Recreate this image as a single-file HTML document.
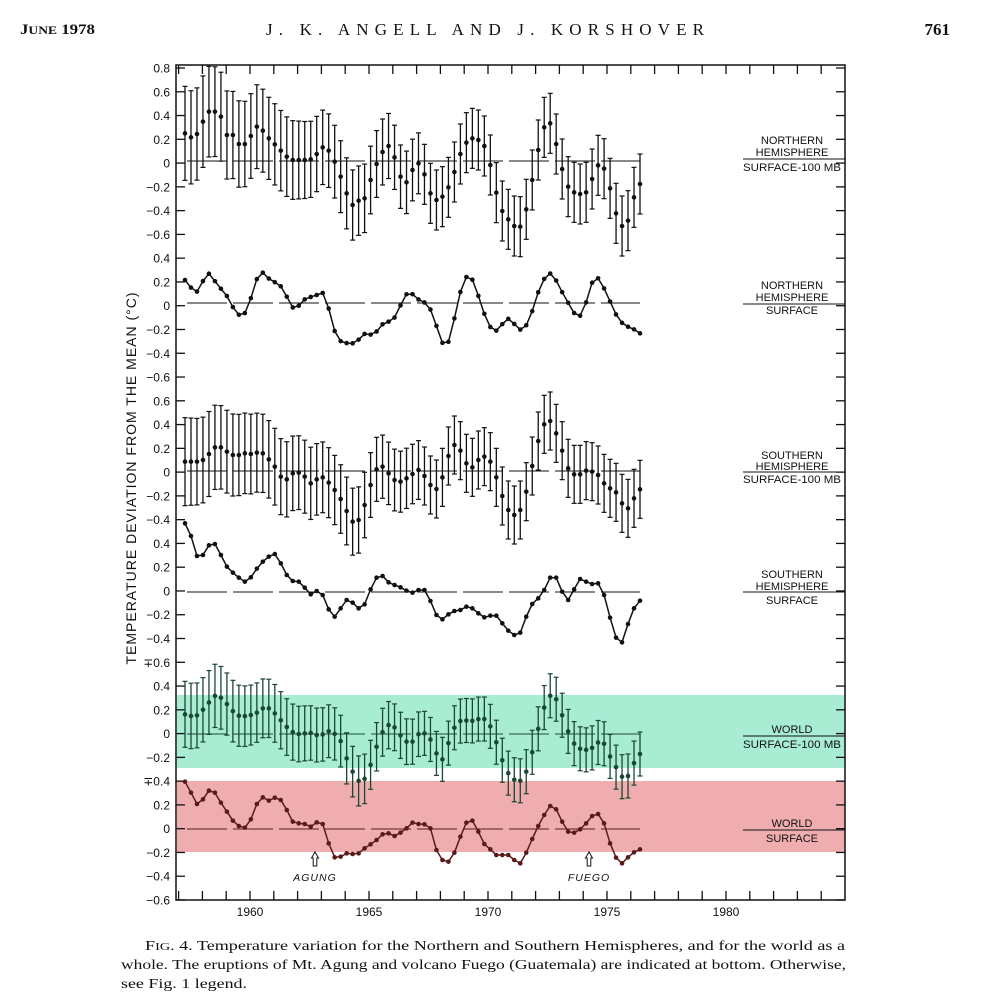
<!DOCTYPE html>
<html><head><meta charset="utf-8"><style>
html,body{margin:0;padding:0;background:#fff;}
body{width:997px;height:1004px;overflow:hidden;position:relative;font-family:"Liberation Serif",serif;}
svg{position:absolute;left:0;top:0;}
</style></head><body>
<svg id="s" width="997" height="1004" viewBox="0 0 997 1004" xmlns="http://www.w3.org/2000/svg">
<rect x="177" y="695" width="668" height="73" fill="#a8ecd4"/>
<rect x="177" y="781" width="668" height="71" fill="#efadb0"/>
<g font-family="Liberation Serif, serif" fill="#111">
<text x="20" y="34" font-size="15" font-weight="bold" textLength="75" lengthAdjust="spacingAndGlyphs">J<tspan font-size="12">UNE</tspan> 1978</text>
<text x="266" y="35" font-size="17" textLength="438" lengthAdjust="spacing">J. K. ANGELL AND J. KORSHOVER</text>
<text x="950" y="35" font-size="17" font-weight="bold" text-anchor="end">761</text>
<text x="145" y="950" font-size="14" textLength="700" lengthAdjust="spacingAndGlyphs">F<tspan font-size="11">IG</tspan>. 4. Temperature variation for the Northern and Southern Hemispheres, and for the world as a</text>
<text x="121" y="969" font-size="14" textLength="725" lengthAdjust="spacingAndGlyphs">whole. The eruptions of Mt. Agung and volcano Fuego (Guatemala) are indicated at bottom. Otherwise,</text>
<text x="121" y="988" font-size="14" textLength="126" lengthAdjust="spacingAndGlyphs">see Fig. 1 legend.</text>
</g>
<g id="g" font-family="Liberation Sans, sans-serif" fill="#111"></g>
</svg>
<script>
var NS="http://www.w3.org/2000/svg",g=document.getElementById('g');
function el(t,a,txt){var e=document.createElementNS(NS,t);for(var k in a)e.setAttribute(k,a[k]);if(txt!=null)e.textContent=txt;g.appendChild(e);return e;}
var L=176,R=845,T=65,B=900;
el('path',{d:'M'+L+' '+T+'V'+B+'H'+R+'V'+T+'Z',fill:'none',stroke:'#111','stroke-width':1.5});
var labs=['0.8','0.6','0.4','0.2','0','-0.2','-0.4','-0.6','0.4','0.2','0','-0.2','-0.4','-0.6','0.6','0.4','0.2','0','-0.2','-0.4','0.4','0.2','0','-0.2','-0.4','∓0.6','0.4','0.2','0','-0.2','∓0.4','0.2','0','-0.2','-0.4','-0.6'];
for(var i=0;i<36;i++){var y=68+i*(832/35);
el('text',{x:170,y:y+4.5,'font-size':12,'text-anchor':'end'},labs[i].replace('-','−'));
el('line',{x1:L,x2:L+9,y1:y,y2:y,stroke:'#111','stroke-width':1.3});
el('line',{x1:R-9,x2:R,y1:y,y2:y,stroke:'#111','stroke-width':1.3});}
function X(yr){return 250+(yr-1960)*23.8;}
for(var yr=1957;yr<=1985;yr++){var x=X(yr);if(x<L+2||x>R-2)continue;
el('line',{x1:x,x2:x,y1:B,y2:B-9,stroke:'#111','stroke-width':1.3});
el('line',{x1:x,x2:x,y1:T,y2:T+9,stroke:'#111','stroke-width':1.3});}
[1960,1965,1970,1975,1980].forEach(function(y){el('text',{x:X(y),y:916,'font-size':12,'text-anchor':'middle'},y);});
el('text',{x:0,y:0,'font-size':14,'text-anchor':'middle','letter-spacing':'1',transform:'translate(136,478) rotate(-90)'},'TEMPERATURE  DEVIATION  FROM  THE  MEAN (°C)');
function rl(lines,ys,ly){lines.forEach(function(t,i){var a={x:792,y:ys[i],'font-size':11,'text-anchor':'middle'};if(t.indexOf('100')>0){a.textLength=98;a.lengthAdjust='spacingAndGlyphs';}el('text',a,t);});el('line',{x1:743,x2:845,y1:ly,y2:ly,stroke:'#111','stroke-width':1});}
rl(['NORTHERN','HEMISPHERE','SURFACE-100 MB'],[144,156,171],159);
rl(['NORTHERN','HEMISPHERE','SURFACE'],[289,301,314],304);
rl(['SOUTHERN','HEMISPHERE','SURFACE-100 MB'],[459,470,483],472);
rl(['SOUTHERN','HEMISPHERE','SURFACE'],[578,590,604],592);
rl(['WORLD','SURFACE-100 MB'],[733,748],736);
rl(['WORLD','SURFACE'],[827,842],830);
[[161,'#111'],[303,'#111'],[471,'#111'],[592,'#111'],[734,'#1c4a38'],[829,'#5a1a1a']].forEach(function(z){
el('line',{x1:187,x2:640,y1:z[0],y2:z[0],stroke:z[1],'stroke-width':1,'stroke-dasharray':'40 6'});});
function rs(a){var o=[],n=77;for(var i=0;i<n;i++){var t=i*(a.length-1)/(n-1),j=Math.floor(t),f=t-j;var v=j+1<a.length?a[j]*(1-f)+a[j+1]*f:a[j];o.push(v);}return o;}
function px(i){return 185+i*455/76;}
function series(arr,off,col,err,h0,h1){var v=rs(arr),d='';
v.forEach(function(z,i){var y=off+z/3,x=px(i);
if(err){var h=i<40?h0+(h1-h0)*i/40:h1;
el('line',{x1:x,x2:x,y1:y-h,y2:y+h,stroke:col,'stroke-width':1.3});
el('line',{x1:x-2.5,x2:x+2.5,y1:y-h,y2:y-h,stroke:col,'stroke-width':1.2});
el('line',{x1:x-2.5,x2:x+2.5,y1:y+h,y2:y+h,stroke:col,'stroke-width':1.2});}
else d+=(i?'L':'M')+x.toFixed(1)+' '+y.toFixed(1);
el('circle',{cx:x,cy:y,r:2.3,fill:col});});
if(!err)el('path',{d:d,fill:'none',stroke:col,'stroke-width':1.5});}
series([220,232,222,185,155,155,170,225,225,252,252,228,200,212,235,253,272,290,300,300,300,298,282,262,272,305,350,400,435,422,415,360,312,276,258,292,350,367,330,310,343,400,420,410,382,336,282,248,235,240,258,315,398,453,478,498,500,448,360,270,202,190,252,327,380,397,402,397,357,316,326,385,460,498,482,412,372],60,'#111',true,47,30);
series([660,683,695,662,640,665,688,710,745,767,758,707,648,636,660,668,682,718,750,733,713,710,703,697,768,835,848,850,850,832,815,830,803,785,785,762,713,693,712,725,730,770,832,870,812,722,656,643,687,745,793,817,801,773,785,810,805,768,707,662,637,655,691,723,757,772,735,670,652,682,722,762,788,800,808,820],60,'#111',false);
series([245,245,245,240,222,202,202,215,225,225,220,222,218,220,238,260,290,298,280,278,290,310,298,292,308,330,357,393,425,420,375,315,268,260,280,300,305,295,282,270,288,315,327,292,228,195,212,250,262,240,230,245,292,348,390,405,390,335,258,183,133,123,160,212,265,283,283,272,275,285,310,325,337,370,385,355,328],380,'#111',true,44,29);
series([430,468,528,525,496,492,525,560,578,593,605,592,566,545,530,522,550,585,603,605,623,643,633,645,688,710,685,660,668,685,673,628,593,588,607,615,622,632,638,630,630,663,705,718,703,693,690,680,685,700,712,707,707,730,752,765,758,710,672,655,630,593,593,635,660,628,597,605,612,610,645,713,773,787,732,685,662],380,'#111',false);
series([163,168,166,148,125,105,115,136,158,170,168,164,155,140,148,168,190,210,222,222,218,220,232,210,220,225,283,325,362,365,325,268,220,195,200,225,245,245,222,220,240,285,300,240,195,180,182,183,175,178,210,268,322,352,365,360,310,240,165,112,100,148,200,245,265,270,268,248,245,285,318,350,350,310,282],660,'#1a4634',true,33,22);
series([365,398,432,418,392,398,428,455,482,498,503,478,432,412,422,413,420,450,485,490,492,500,487,492,550,592,590,580,582,580,565,553,540,523,520,528,518,505,488,492,493,505,570,600,605,578,530,488,482,515,552,568,585,585,585,600,610,578,537,498,465,438,448,485,515,518,508,490,468,462,490,550,593,610,592,577,568],660,'#5a1a1a',false);
[[315,'AGUNG'],[589,'FUEGO']].forEach(function(a){var x=a[0];
el('path',{d:'M'+x+' 852 L'+(x-3.5)+' 858 L'+(x-1.8)+' 858 L'+(x-1.8)+' 866 L'+(x+1.8)+' 866 L'+(x+1.8)+' 858 L'+(x+3.5)+' 858 Z',fill:'#fff',stroke:'#111','stroke-width':1});
el('text',{x:x,y:881,'font-size':10.5,'font-style':'italic','text-anchor':'middle','letter-spacing':'1'},a[1]);});
</script>
</body></html>
